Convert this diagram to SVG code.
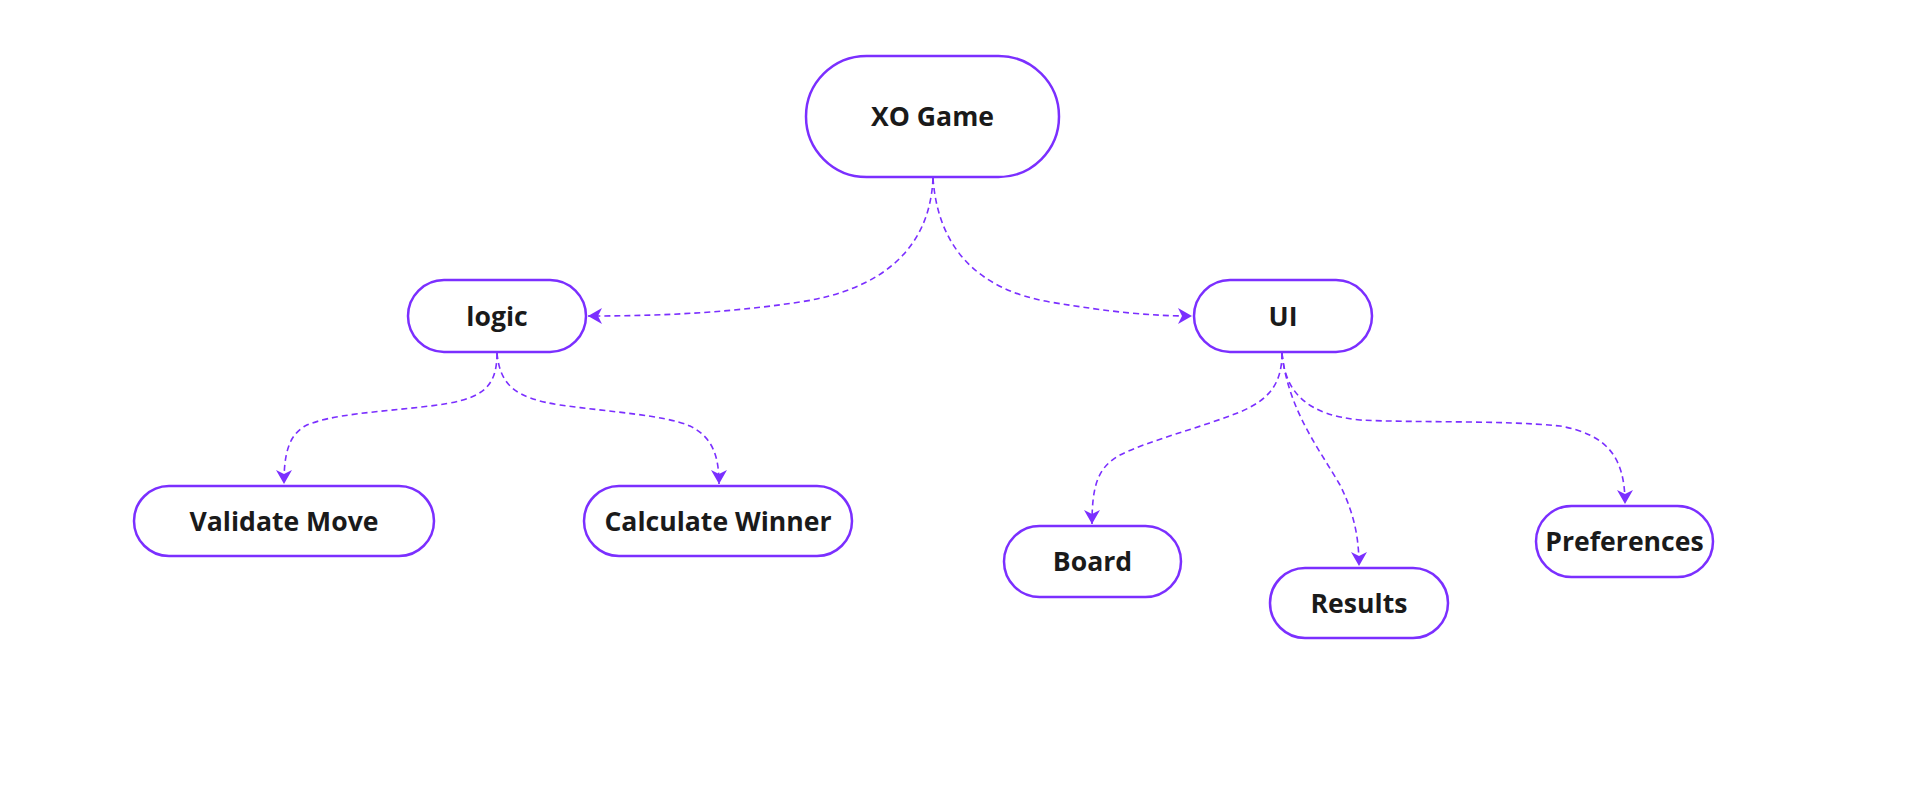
<svg xmlns="http://www.w3.org/2000/svg" width="1930" height="809" viewBox="0 0 1930 809">
<style>
.node rect{fill:#ffffff;stroke:#7b2fff;stroke-width:2.5}
.node text{font-family:"Open Sans","Noto Sans","Liberation Sans",sans-serif;font-weight:700;font-size:26.6px;fill:#1a1a1a;text-anchor:middle}
.edge{fill:none;stroke:#7b2fff;stroke-width:1.6;stroke-dasharray:6 4}
</style>
<defs>
<marker id="arr" viewBox="0 0 14 18" refX="14" refY="9" markerWidth="14" markerHeight="18" markerUnits="userSpaceOnUse" orient="auto">
<path d="M0,1 L14,9 L0,17 L4,9 z" fill="#7b2fff"/>
</marker>
</defs>
<rect width="1930" height="809" fill="#ffffff"/>
<g id="connectors">
<path class="edge" marker-end="url(#arr)" d="M933,178 C930,250 880,290 800,302 C720,314 650,316 588,316"/>
<path class="edge" marker-end="url(#arr)" d="M933,178 C938,250 980,290 1050,302 C1110,312 1150,316 1192,316"/>
<path class="edge" marker-end="url(#arr)" d="M497,353 C497,390 480,400 430,406 C380,412 330,414 305,426 C288,436 284,455 284,484"/>
<path class="edge" marker-end="url(#arr)" d="M497,353 C500,385 515,398 560,405 C610,412 665,415 690,426 C712,437 719,455 719,484"/>
<path class="edge" marker-end="url(#arr)" d="M1282,353 C1282,385 1268,400 1240,412 C1200,428 1150,440 1120,455 C1098,467 1092,485 1092,524"/>
<path class="edge" marker-end="url(#arr)" d="M1282,353 C1288,410 1320,450 1340,485 C1355,515 1359,540 1359,566"/>
<path class="edge" marker-end="url(#arr)" d="M1282,353 C1285,395 1310,415 1360,420 C1420,423 1500,420 1560,426 C1610,435 1625,460 1625,504"/>
</g>
<g id="node-xo" class="node"><rect x="806" y="56" width="253" height="121" rx="60.5"/><text x="932.5" y="126">XO Game</text></g>
<g id="node-logic" class="node"><rect x="408" y="280" width="178" height="72" rx="36"/><text x="497" y="326">logic</text></g>
<g id="node-ui" class="node"><rect x="1194" y="280" width="178" height="72" rx="36"/><text x="1283" y="326">UI</text></g>
<g id="node-validate" class="node"><rect x="134" y="486" width="300" height="70" rx="35"/><text x="284" y="531">Validate Move</text></g>
<g id="node-winner" class="node"><rect x="584" y="486" width="268" height="70" rx="35"/><text x="718" y="531">Calculate Winner</text></g>
<g id="node-board" class="node"><rect x="1004" y="526" width="177" height="71" rx="35.5"/><text x="1092.5" y="571">Board</text></g>
<g id="node-results" class="node"><rect x="1270" y="568" width="178" height="70" rx="35"/><text x="1359" y="613">Results</text></g>
<g id="node-prefs" class="node"><rect x="1536" y="506" width="177" height="71" rx="35.5"/><text x="1624.5" y="551">Preferences</text></g>
</svg>
